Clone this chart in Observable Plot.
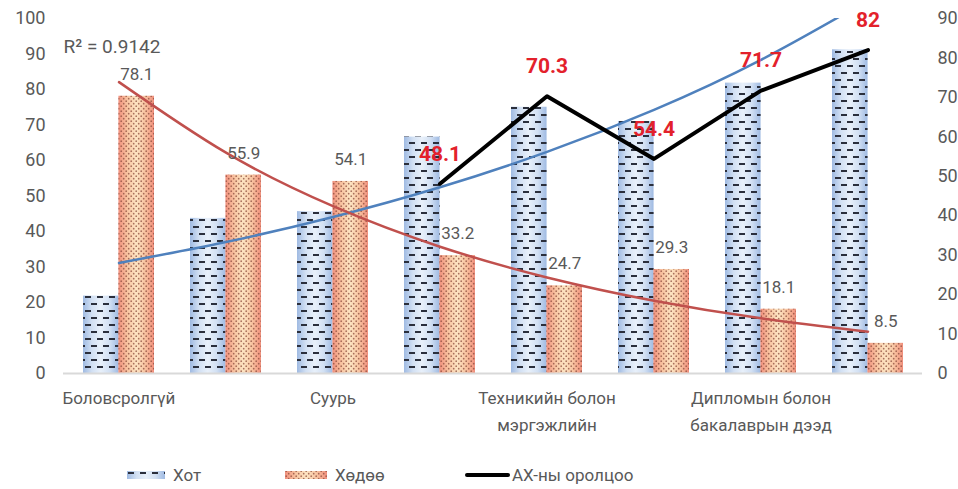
<!DOCTYPE html>
<html><head><meta charset="utf-8">
<script src="https://cdn.jsdelivr.net/npm/d3@7"></script>
<script src="https://cdn.jsdelivr.net/npm/@observablehq/plot@0.6"></script>
<style>
body{margin:0;background:#fff;font-family:Roboto,sans-serif;}
#legend{position:relative;height:34px;width:958px;color:#595959;font-size:17px;}
.item{position:absolute;top:10px;display:flex;align-items:center;height:20px;}
.item svg{display:block;}
</style></head><body>
<div id="chart"></div>
<div id="legend"></div>
<script>
// ---- data ----
const categories = ["Боловсролгүй", "Бага", "Суурь", "Бүрэн дунд", "Техникийн болон мэргэжлийн", "Тусгай мэргэжлийн дунд", "Дипломын болон бакалаврын дээд", "Магистр, доктор"];
const tickLabels = ["Боловсролгүй", "", "Суурь", "", "Техникийн болон\nмэргэжлийн", "", "Дипломын болон\nбакалаврын дээд", ""];
const hot = [21.8, 43.7, 45.6, 66.6, 75.0, 71.0, 81.8, 91.2];
const hodoo = [78.1, 55.9, 54.1, 33.2, 24.7, 29.3, 18.1, 8.5];
const participation = [null, null, null, 48.1, 70.3, 54.4, 71.7, 82];
const leftTicks = [0, 10, 20, 30, 40, 50, 60, 70, 80, 90, 100];
const rightTicks = [0, 10, 20, 30, 40, 50, 60, 70, 80, 90];
const seriesNames = ["Хот", "Хөдөө", "АХ-ны оролцоо"];
const r2Label = "R² = 0.9142";

// exponential trend (least squares on ln y), like a spreadsheet trendline
function expFit(values) {
  const xs = values.map((_, i) => i + 1);
  const ls = values.map(Math.log);
  const mx = d3.mean(xs), ml = d3.mean(ls);
  const b = d3.sum(xs, (x, i) => (x - mx) * (ls[i] - ml)) / d3.sum(xs, x => (x - mx) ** 2);
  return xs.map(x => Math.exp(ml + b * (x - mx)));
}
const hotFit = expFit(hot), hodFit = expFit(hodoo);
const rows = categories.map((c, i) => ({c, hot: hot[i], hodoo: hodoo[i], part: participation[i], hotFit: hotFit[i], hodFit: hodFit[i]}));
const partRows = rows.filter(d => d.part != null);
const k = 100 / 90; // right axis (0–90) mapped onto left axis (0–100)

const W = 958, H = 455, mL = 63, mR = 36, mT = 18, mB = H - 373;
const pInner = 0.34;
const bw = (W - mL - mR) / categories.length * (1 - pInner);
const half = bw / 2;
const grey = "#595959";

const svg = Plot.plot({
  width: W, height: H, marginLeft: mL, marginRight: mR, marginTop: mT, marginBottom: mB,
  style: {fontFamily: "Roboto, sans-serif", fontSize: "18px", color: grey, background: "white"},
  x: {domain: categories, paddingInner: pInner, paddingOuter: pInner / 2, label: null},
  y: {domain: [0, 100], label: null},
  marks: [
    Plot.barY(rows, {x: "c", y: "hot", fill: "url(#gHot)", insetRight: half}),
    Plot.barY(rows, {x: "c", y: "hot", fill: "url(#pHot)", insetRight: half}),
    Plot.barY(rows, {x: "c", y: "hodoo", fill: "url(#gHod)", insetLeft: half}),
    Plot.barY(rows, {x: "c", y: "hodoo", fill: "url(#pHod)", insetLeft: half}),
    Plot.ruleY([0], {stroke: "#d9d9d9", strokeWidth: 2}),
    Plot.line(rows, {x: "c", y: "hotFit", stroke: "#4f81bd", strokeWidth: 2.5, curve: "natural", clip: true}),
    Plot.line(rows, {x: "c", y: "hodFit", stroke: "#c0504d", strokeWidth: 2.5, curve: "natural"}),
    Plot.line(partRows, {x: "c", y: d => d.part * k, stroke: "black", strokeWidth: 4}),
    Plot.text(rows, {x: "c", y: "hodoo", text: d => String(d.hodoo), dx: bw / 4, dy: -22, fill: grey, fontSize: 17}),
    Plot.text(partRows, {x: "c", y: d => d.part * k, text: d => String(d.part), dy: -30, fill: "#e3212b", fontWeight: "bold", fontSize: 21}),
    Plot.text([r2Label], {frameAnchor: "top-left", dy: 21, textAnchor: "start", fill: grey, fontSize: 19}),
    Plot.axisY(leftTicks, {anchor: "left", tickSize: 0, tickPadding: 18, fill: grey, fontSize: 18, label: null}),
    Plot.axisY(rightTicks.map(v => v * k), {anchor: "right", tickSize: 0, tickPadding: 15, tickFormat: d => String(Math.round(d / k)), fill: grey, fontSize: 18, label: null}),
    Plot.axisX(categories.filter((_, i) => tickLabels[i] !== ""), {anchor: "bottom", tickSize: 0, tickPadding: 11, tickFormat: c => tickLabels[categories.indexOf(c)], fill: grey, fontSize: 17, lineHeight: 1.6, label: null})
  ]
});

const defs = `
<linearGradient id="gHot" x1="0" x2="1" y1="0" y2="0">
  <stop offset="0" stop-color="#9fbae2"/><stop offset="0.25" stop-color="#d2e0f3"/>
  <stop offset="0.5" stop-color="#e8f0fa"/><stop offset="0.75" stop-color="#d2e0f3"/>
  <stop offset="1" stop-color="#9fbae2"/>
</linearGradient>
<linearGradient id="gHod" x1="0" x2="1" y1="0" y2="0">
  <stop offset="0" stop-color="#f08f7c"/><stop offset="0.25" stop-color="#f8c3a0"/>
  <stop offset="0.5" stop-color="#fde4c2"/><stop offset="0.75" stop-color="#f8c3a0"/>
  <stop offset="1" stop-color="#f08f7c"/>
</linearGradient>
<pattern id="pHot" patternUnits="userSpaceOnUse" width="12" height="14">
  <rect x="1" y="2" width="6" height="2" fill="#2b2f3c"/>
  <rect x="7" y="9" width="6" height="2" fill="#2b2f3c"/>
  <rect x="-5" y="9" width="6" height="2" fill="#2b2f3c"/>
</pattern>
<pattern id="pHod" patternUnits="userSpaceOnUse" width="5" height="5">
  <circle cx="1.2" cy="1.2" r="0.85" fill="#8a4a3c" fill-opacity="0.75"/>
  <circle cx="3.7" cy="3.7" r="0.85" fill="#8a4a3c" fill-opacity="0.75"/>
</pattern>`;
d3.select(svg).insert("defs", ":first-child").html(defs);
document.getElementById("chart").appendChild(svg);

// legend
const legend = d3.select("#legend");
const items = [
  {name: seriesNames[0], left: 127, g: "gHot", p: "pHot", w: 38},
  {name: seriesNames[1], left: 285, g: "gHod", p: "pHod", w: 42},
  {name: seriesNames[2], left: 465, line: true, w: 45}
];
for (const it of items) {
  const div = legend.append("div").attr("class", "item").style("left", it.left + "px");
  const s = div.append("svg").attr("width", it.w).attr("height", 10);
  if (it.line) {
    s.append("rect").attr("x", 0).attr("y", 3).attr("width", it.w).attr("height", 4).attr("rx", 2).attr("fill", "black");
  } else {
    s.append("rect").attr("x", 0).attr("y", 1).attr("width", it.w).attr("height", 8).attr("fill", `url(#${it.g})`);
    s.append("rect").attr("x", 0).attr("y", 1).attr("width", it.w).attr("height", 8).attr("fill", `url(#${it.p})`);
  }
  div.append("span").style("margin-left", it.line ? "2px" : "8px").text(it.name);
}
</script>
</body></html>
